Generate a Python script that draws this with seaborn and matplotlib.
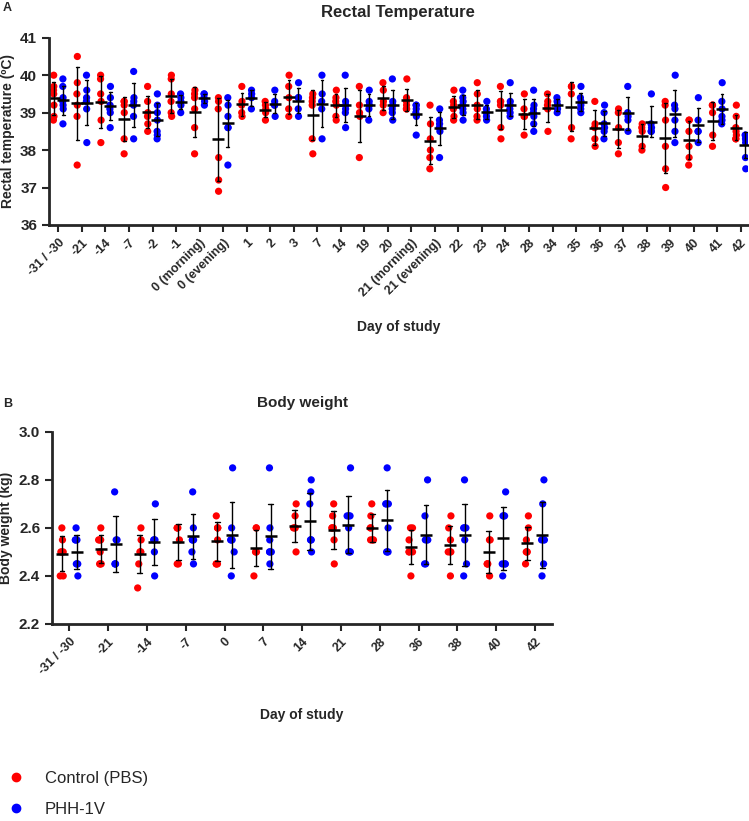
import numpy as np
import pandas as pd
import matplotlib.pyplot as plt
import seaborn as sns
from matplotlib.lines import Line2D

sns.set_style('white')
plt.rcParams['font.family'] = ['Liberation Sans', 'DejaVu Sans']

# Rectal temperature (degC), individual animals per day
temp_days = ['-31 / -30', '-21', '-14', '-7', '-2', '-1', '0 (morning)', '0 (evening)',
             '1', '2', '3', '7', '14', '19', '20', '21 (morning)', '21 (evening)',
             '22', '23', '24', '28', '34', '35', '36', '37', '38', '39', '40', '41', '42']
temp_ctrl = [
    [40.0, 39.7, 39.6, 39.5, 39.2, 38.9, 38.8],
    [40.5, 39.8, 39.5, 39.2, 38.9, 37.6],
    [40.0, 39.9, 39.5, 39.3, 38.8, 38.2],
    [39.3, 39.3, 39.2, 39.0, 38.3, 37.9],
    [39.7, 39.3, 39.0, 38.9, 38.7, 38.5],
    [40.0, 39.9, 39.5, 39.3, 39.0, 38.9],
    [39.6, 39.5, 39.4, 39.1, 38.6, 37.9],
    [39.4, 39.3, 39.1, 37.8, 37.2, 36.9],
    [39.7, 39.3, 39.2, 39.0, 38.9],
    [39.3, 39.2, 39.1, 39.0, 38.8],
    [40.0, 39.7, 39.4, 39.1, 38.9],
    [39.5, 39.4, 39.3, 39.2, 38.3, 37.9],
    [39.6, 39.4, 39.3, 39.2, 38.9, 38.8],
    [39.7, 39.2, 39.0, 38.9, 37.8],
    [39.8, 39.6, 39.3, 39.2, 39.0],
    [39.9, 39.4, 39.3, 39.2, 39.1, 39.1],
    [39.2, 38.7, 38.3, 38.0, 37.8, 37.5],
    [39.6, 39.3, 39.2, 39.1, 38.9, 38.8],
    [39.8, 39.5, 39.2, 39.1, 38.9, 38.8],
    [39.7, 39.3, 39.3, 39.2, 38.6, 38.3],
    [39.5, 39.1, 38.9, 38.9, 38.4],
    [39.5, 39.3, 39.2, 39.1, 38.5],
    [39.7, 39.7, 39.5, 38.6, 38.3],
    [39.3, 38.7, 38.6, 38.3, 38.1],
    [39.1, 39.0, 38.6, 38.2, 37.9],
    [38.7, 38.6, 38.5, 38.1, 38.0],
    [39.3, 39.2, 38.8, 38.1, 37.5, 37.0],
    [38.8, 38.8, 38.5, 38.1, 37.8, 37.6],
    [39.2, 39.2, 39.0, 38.4, 38.1],
    [39.2, 38.9, 38.6, 38.5, 38.4, 38.3, 38.3],
]
temp_phh = [
    [39.9, 39.7, 39.4, 39.3, 39.2, 39.1, 38.7],
    [40.0, 39.6, 39.4, 39.3, 39.1, 38.2],
    [39.7, 39.4, 39.2, 39.1, 39.0, 38.6],
    [40.1, 39.4, 39.3, 39.2, 38.9, 38.3],
    [39.5, 39.2, 39.0, 38.8, 38.5, 38.4, 38.3],
    [39.5, 39.4, 39.3, 39.2, 39.0],
    [39.5, 39.5, 39.4, 39.3, 39.2],
    [39.4, 39.2, 38.9, 38.6, 38.6, 37.6],
    [39.6, 39.5, 39.4, 39.1],
    [39.6, 39.3, 39.2, 39.2, 38.9],
    [39.8, 39.4, 39.4, 39.1, 38.9],
    [40.0, 39.5, 39.3, 39.1, 38.3],
    [40.0, 39.3, 39.2, 39.1, 39.0, 38.6],
    [39.6, 39.3, 39.2, 39.1, 38.8],
    [39.9, 39.3, 39.2, 39.1, 39.0, 38.8],
    [39.2, 39.2, 39.1, 39.0, 38.9, 38.4],
    [39.1, 38.8, 38.7, 38.6, 38.5, 37.8],
    [39.6, 39.4, 39.3, 39.2, 39.1, 39.0, 38.8],
    [39.3, 39.1, 39.0, 38.9, 38.8],
    [39.8, 39.3, 39.2, 39.1, 39.0, 38.9],
    [39.6, 39.2, 39.1, 39.0, 38.9, 38.7, 38.5],
    [39.4, 39.3, 39.2, 39.1, 39.0],
    [39.7, 39.4, 39.3, 39.2, 39.1, 39.0],
    [39.2, 39.0, 38.7, 38.6, 38.5, 38.3],
    [39.7, 39.0, 38.9, 38.8, 38.5],
    [39.5, 38.7, 38.6, 38.5, 38.5],
    [40.0, 39.2, 39.1, 38.8, 38.5, 38.2],
    [39.4, 38.8, 38.5, 38.5, 38.2],
    [39.8, 39.3, 39.1, 38.9, 38.8, 38.7],
    [38.4, 38.4, 38.3, 38.3, 38.2, 37.8, 37.5],
]

# Body weight (kg)
bw_days = ['-31 / -30', '-21', '-14', '-7', '0', '7', '14', '21', '28', '36', '38', '40', '42']
bw_ctrl = [
    [2.6, 2.55, 2.5, 2.5, 2.5, 2.4, 2.4],
    [2.6, 2.55, 2.55, 2.55, 2.5, 2.45, 2.45, 2.45],
    [2.6, 2.55, 2.5, 2.5, 2.5, 2.45, 2.35],
    [2.6, 2.6, 2.6, 2.55, 2.45, 2.45],
    [2.65, 2.6, 2.6, 2.6, 2.55, 2.45, 2.45, 2.45],
    [2.6, 2.6, 2.5, 2.5, 2.5, 2.4],
    [2.7, 2.65, 2.6, 2.6, 2.6, 2.5],
    [2.7, 2.65, 2.6, 2.6, 2.6, 2.55, 2.45],
    [2.7, 2.65, 2.6, 2.6, 2.55, 2.55, 2.55],
    [2.6, 2.6, 2.55, 2.5, 2.5, 2.5, 2.4],
    [2.65, 2.6, 2.55, 2.5, 2.5, 2.5, 2.4],
    [2.65, 2.55, 2.55, 2.45, 2.45, 2.45, 2.4],
    [2.65, 2.6, 2.55, 2.5, 2.5, 2.5, 2.45],
]
bw_phh = [
    [2.6, 2.55, 2.55, 2.55, 2.45, 2.45, 2.45, 2.4],
    [2.75, 2.55, 2.55, 2.45, 2.45, 2.45],
    [2.7, 2.55, 2.55, 2.55, 2.5, 2.4],
    [2.75, 2.6, 2.55, 2.55, 2.55, 2.5, 2.45],
    [2.85, 2.6, 2.55, 2.55, 2.55, 2.5, 2.4],
    [2.85, 2.6, 2.55, 2.5, 2.5, 2.5, 2.45],
    [2.8, 2.75, 2.7, 2.55, 2.55, 2.55, 2.5],
    [2.85, 2.65, 2.65, 2.65, 2.6, 2.5, 2.5, 2.5],
    [2.85, 2.7, 2.7, 2.7, 2.6, 2.5, 2.5, 2.5],
    [2.8, 2.65, 2.55, 2.55, 2.55, 2.45, 2.45],
    [2.8, 2.6, 2.6, 2.6, 2.55, 2.45, 2.4],
    [2.75, 2.65, 2.65, 2.65, 2.45, 2.45, 2.45, 2.4],
    [2.8, 2.7, 2.55, 2.55, 2.55, 2.45, 2.4],
]

groups = ['Control (PBS)', 'PHH-1V']
palette = {'Control (PBS)': '#ff0000', 'PHH-1V': '#0000ff'}


def to_long(days, ctrl, phh):
    rows = []
    for d, c, p in zip(days, ctrl, phh):
        rows += [(d, groups[0], v) for v in c]
        rows += [(d, groups[1], v) for v in p]
    return pd.DataFrame(rows, columns=['day', 'group', 'value'])


def draw(ax, df, days, jitter, dodge):
    np.random.seed(3)
    sns.stripplot(data=df, x='day', y='value', hue='group', order=days, hue_order=groups,
                  palette=palette, dodge=True, jitter=jitter, size=5.2, linewidth=0,
                  ax=ax, legend=False, zorder=1)
    sns.pointplot(data=df, x='day', y='value', hue='group', order=days, hue_order=groups,
                  palette=['black', 'black'], dodge=dodge, errorbar='sd', linestyle='none',
                  marker='_', markersize=9, markeredgewidth=1.8, capsize=0.12,
                  err_kws={'linewidth': 1.0}, ax=ax, legend=False)
    for side in ['top', 'right']:
        ax.spines[side].set_visible(False)
    for side in ['left', 'bottom']:
        ax.spines[side].set_linewidth(2)
    ax.tick_params(axis='both', direction='out', length=5, width=1.5, left=True, bottom=True)
    plt.setp(ax.get_xticklabels(), rotation=45, ha='right', rotation_mode='anchor',
             fontweight='bold', fontsize=9)


fig = plt.figure(figsize=(7.49, 8.21), dpi=100)

# A: rectal temperature
ax1 = fig.add_axes([0.0654, 0.726, 0.933, 0.228])
draw(ax1, to_long(temp_days, temp_ctrl, temp_phh), temp_days, 0.03, 0.4)
ax1.set_xlim(-0.4, 29.3)
ax1.set_ylim(36, 41)
ax1.set_yticks(range(36, 42))
ax1.set_yticklabels([str(t) for t in range(36, 42)], fontweight='bold', fontsize=11)
ax1.set_ylabel('Rectal temperature (ºC)', fontweight='bold', fontsize=10)
ax1.set_xlabel('Day of study', fontweight='bold', fontsize=10, labelpad=15)
ax1.set_title('Rectal Temperature', fontweight='bold', fontsize=12, pad=15)

# B: body weight
ax2 = fig.add_axes([0.0694, 0.240, 0.668, 0.234])
draw(ax2, to_long(bw_days, bw_ctrl, bw_phh), bw_days, 0.1, 0.38)
ax2.set_xlim(-0.45, 12.45)
ax2.set_ylim(2.2, 3.0)
yt = [2.2, 2.4, 2.6, 2.8, 3.0]
ax2.set_yticks(yt)
ax2.set_yticklabels([f'{t:.1f}' for t in yt], fontweight='bold', fontsize=11)
ax2.set_ylabel('Body weight (kg)', fontweight='bold', fontsize=10)
ax2.set_xlabel('Day of study', fontweight='bold', fontsize=10, labelpad=22)
ax2.set_title('Body weight', fontweight='bold', fontsize=11, pad=18)

fig.text(0.004, 0.997, 'A', fontweight='bold', fontsize=9, va='top')
fig.text(0.004, 0.515, 'B', fontweight='bold', fontsize=9, va='top')

handles = [Line2D([], [], marker='o', linestyle='none', markersize=6,
                  color=palette[g], label=g) for g in groups]
fig.legend(handles=handles, loc='lower left', bbox_to_anchor=(-0.005, -0.007), frameon=False,
           fontsize=12, labelspacing=0.95, handletextpad=1.1, handlelength=1.2,
           borderaxespad=0.2)

fig.savefig('out.png', dpi=100)
